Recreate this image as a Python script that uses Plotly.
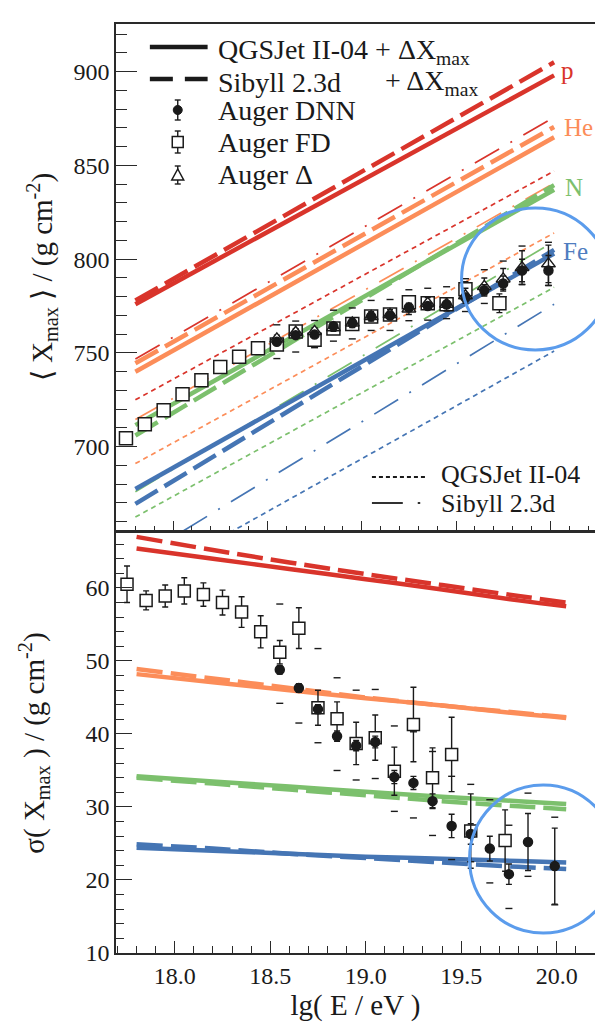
import plotly.graph_objects as go

# ---------------- data ----------------
# model lines, <Xmax> panel (lg E/eV endpoints)
lg_line_top = [17.8, 20.02]
p_qgs_dx = [776.0, 898.0]
p_sib_dx = [778.0, 905.0]
he_qgs_dx = [740.0, 865.0]
he_sib_dx = [744.5, 870.5]
n_qgs_dx = [711.5, 837.0]
n_sib_dx = [706.0, 839.5]
fe_qgs_dx = [677.5, 803.0]
fe_sib_dx = [669.5, 805.0]
p_qgs = [725.0, 847.0]
p_sib = [746.8, 875.7]
he_qgs = [691.0, 814.0]
he_sib = [714.5, 840.5]
n_qgs = [662.5, 785.0]
n_sib = [676.0, 809.5]
fe_qgs = [626.0, 751.0]
fe_sib = [639.5, 776.0]

# model lines, sigma panel
lg_line_sig = [17.8, 18.2, 18.6, 19.0, 19.4, 19.8, 20.05]
sig_p_qgs_dx = [65.4, 64.0, 62.6, 61.2, 59.8, 58.3, 57.5]
sig_p_sib_dx = [67.0, 65.2, 63.5, 61.9, 60.4, 58.9, 58.0]
sig_he_qgs_dx = [48.2, 47.1, 46.0, 44.9, 43.9, 42.8, 42.2]
sig_he_sib_dx = [48.9, 47.6, 46.3, 45.0, 43.9, 42.9, 42.3]
sig_n_qgs_dx = [34.2, 33.5, 32.8, 32.1, 31.4, 30.8, 30.4]
sig_n_sib_dx = [34.0, 33.2, 32.4, 31.6, 30.8, 30.1, 29.7]
sig_fe_qgs_dx = [24.4, 24.0, 23.6, 23.2, 22.9, 22.6, 22.4]
sig_fe_sib_dx = [24.9, 24.3, 23.6, 23.0, 22.4, 21.8, 21.5]

# Auger FD
lg_fd = [17.75, 17.85, 17.95, 18.05, 18.15, 18.25, 18.35, 18.45, 18.55, 18.65,
         18.75, 18.85, 18.95, 19.05, 19.15, 19.25, 19.35, 19.45, 19.55, 19.73]
xmax_fd = [704.5, 712.0, 719.5, 728.0, 735.5, 742.5, 748.0, 752.5, 754.5, 761.5,
           757.0, 763.0, 765.5, 769.5, 770.5, 777.0, 776.5, 776.0, 784.0, 776.5]
xmax_fd_err = [1.0, 1.0, 1.0, 1.0, 1.0, 1.0, 1.0, 1.2, 1.5, 1.5,
               2.0, 2.0, 2.0, 2.0, 2.5, 2.5, 3.0, 3.5, 4.0, 5.0]
sig_fd = [60.5, 58.3, 58.9, 59.6, 59.1, 58.0, 56.7, 54.0, 51.2, 54.5,
          43.6, 42.1, 38.7, 39.5, 34.9, 41.3, 34.0, 37.2, 26.7, 25.4]
sig_fd_err = [2.5, 1.3, 1.5, 1.8, 1.6, 1.7, 2.1, 2.2, 1.6, 2.8,
              2.4, 2.3, 2.9, 3.1, 3.3, 5.1, 4.1, 5.1, 5.1, 4.2]

# Auger DNN
lg_dnn = [18.55, 18.65, 18.75, 18.85, 18.95, 19.05, 19.15, 19.25, 19.35, 19.45,
          19.55, 19.65, 19.75, 19.85, 19.99]
xmax_dnn = [756.0, 759.5, 759.8, 764.3, 766.0, 769.5, 770.0, 774.2, 775.0, 775.8,
            779.6, 783.4, 787.0, 794.0, 794.0]
xmax_dnn_err = [1.0, 1.0, 1.0, 1.0, 1.0, 1.2, 1.2, 1.3, 1.5, 1.8,
                2.2, 3.0, 4.0, 6.0, 8.0]
xmax_dnn_sys_up = [9.0, 7.5, 7.5, 8.5, 8.0, 8.5, 8.5, 9.5, 9.5, 9.5,
                   10.0, 11.0, 12.0, 13.0, 15.0]
xmax_dnn_sys_dn = [9.0, 9.0, 7.0, 8.0, 8.5, 7.5, 8.0, 7.0, 7.5, 7.5,
                   7.5, 7.0, 7.0, 7.5, 8.0]
sig_dnn = [48.8, 46.3, 43.4, 39.7, 38.4, 38.9, 34.1, 33.3, 30.8, 27.4,
           26.3, 24.3, 20.8, 25.2, 21.9]
sig_dnn_err = [0.6, 0.6, 0.6, 0.7, 0.7, 0.8, 0.9, 0.9, 1.0, 1.6,
               1.4, 1.7, 1.4, 3.9, 5.2]
sig_dnn_sys_up = [9.0, 8.7, 8.3, 8.0, 7.6, 7.2, 7.0, 7.0, 6.8, 6.8,
                  6.8, 6.7, 6.7, 6.7, 6.7]
sig_dnn_sys_dn = [4.6, 4.8, 4.6, 4.7, 4.7, 5.0, 4.7, 4.8, 4.7, 4.6,
                  3.8, 4.7, 4.7, 4.7, 5.3]

# Auger Delta method
lg_delta = lg_dnn
xmax_delta = [757.5, 761.0, 761.5, 763.5, 766.0, 769.5, 770.5, 773.5, 776.5, 776.0,
              780.5, 785.5, 789.5, 795.5, 797.5]
xmax_delta_err = [2.0, 2.0, 2.0, 2.0, 2.5, 2.5, 2.5, 3.0, 3.0, 3.5,
                  4.0, 4.5, 5.5, 9.0, 10.0]

species = ["p", "He", "N", "Fe"]

# ---------------- style ----------------
RED = "#d9342b"
ORANGE = "#fc8d59"
GREEN = "#7cc06d"
BLUE = "#4575b4"
CIRCLE_BLUE = "#5b9cec"
FONT = "Liberation Serif, Times New Roman, serif"
INK = "#1a1a1a"

# page is offset by the 8px body margin; work in page pixels
OFF = 8
W, H = 603 - OFF, 1023 - OFF
PLOT_L, PLOT_R, PLOT_T, PLOT_B = 116, 597, 24, 953       # page pixels
ML, MR, MT, MB = PLOT_L - OFF, W - (PLOT_R - OFF), PLOT_T - OFF, H - (PLOT_B - OFF)
PW = PLOT_R - PLOT_L
PH = PLOT_B - PLOT_T


def px2x(px):
    return (px - PLOT_L) / PW


def py2y(py):
    return (PLOT_B - py) / PH


fig = go.Figure()


def add_line(x, y, color, width, dash, xa, ya, shape="linear"):
    fig.add_trace(go.Scatter(x=x, y=y, mode="lines",
                             line=dict(color=color, width=width, dash=dash, shape=shape),
                             xaxis=xa, yaxis=ya, showlegend=False, hoverinfo="skip"))


THIN_Q = "5px,4px"
THIN_S = "28px,13px,2px,13px"
THICK_D = "26px,8px"

# ---- top panel thin lines (pure models)
for yq, ys, c in [(p_qgs, p_sib, RED), (he_qgs, he_sib, ORANGE),
                  (n_qgs, n_sib, GREEN), (fe_qgs, fe_sib, BLUE)]:
    add_line(lg_line_top, yq, c, 1.7, THIN_Q, "x2", "y2")
    add_line(lg_line_top, ys, c, 1.7, THIN_S, "x2", "y2")

# ---- top panel thick lines (+ dXmax)
for yq, ys, c in [(p_qgs_dx, p_sib_dx, RED), (he_qgs_dx, he_sib_dx, ORANGE),
                  (n_qgs_dx, n_sib_dx, GREEN), (fe_qgs_dx, fe_sib_dx, BLUE)]:
    add_line(lg_line_top, yq, c, 4.5, "solid", "x2", "y2")
    add_line(lg_line_top, ys, c, 4.5, THICK_D, "x2", "y2")

# ---- bottom panel thick lines
for yq, ys, c in [(sig_p_qgs_dx, sig_p_sib_dx, RED), (sig_he_qgs_dx, sig_he_sib_dx, ORANGE),
                  (sig_n_qgs_dx, sig_n_sib_dx, GREEN), (sig_fe_qgs_dx, sig_fe_sib_dx, BLUE)]:
    add_line(lg_line_sig, yq, c, 4.5, "solid", "x", "y", "spline")
    add_line(lg_line_sig, ys, c, 4.5, THICK_D, "x", "y", "spline")


def err(arr):
    return dict(type="data", array=arr, visible=True, color=INK, thickness=1.4, width=3)


def add_points(x, y, e, symbol, size, fill, xa, ya):
    fig.add_trace(go.Scatter(x=x, y=y, mode="markers", error_y=err(e),
                             marker=dict(symbol=symbol, size=size, color=fill,
                                         line=dict(color=INK, width=1.5)),
                             xaxis=xa, yaxis=ya, showlegend=False, hoverinfo="skip"))


def add_brackets(x, y, up, dn, xa, ya):
    yu = [a + b for a, b in zip(y, up)]
    yd = [a - b for a, b in zip(y, dn)]
    for yy in (yu, yd):
        fig.add_trace(go.Scatter(x=x, y=yy, mode="markers",
                                 marker=dict(symbol="line-ew", size=5,
                                             line=dict(color=INK, width=1.4)),
                                 xaxis=xa, yaxis=ya, showlegend=False, hoverinfo="skip"))


# top data
add_brackets(lg_dnn, xmax_dnn, xmax_dnn_sys_up, xmax_dnn_sys_dn, "x2", "y2")
add_points(lg_fd, xmax_fd, xmax_fd_err, "square", 13, "white", "x2", "y2")
add_points(lg_delta, xmax_delta, xmax_delta_err, "triangle-up", 12, "white", "x2", "y2")
add_points(lg_dnn, xmax_dnn, xmax_dnn_err, "circle", 9, INK, "x2", "y2")

# bottom data
add_brackets(lg_dnn, sig_dnn, sig_dnn_sys_up, sig_dnn_sys_dn, "x", "y")
add_points(lg_fd, sig_fd, sig_fd_err, "square", 12, "white", "x", "y")
add_points(lg_dnn, sig_dnn, sig_dnn_err, "circle", 9, INK, "x", "y")

# ---------------- axes ----------------
axis_common = dict(showline=True, linecolor="#2a2a2a", linewidth=1.5, mirror=True,
                   showgrid=False, zeroline=False, ticks="inside", tickcolor="#2a2a2a",
                   tickwidth=1.4, tickfont=dict(family=FONT, size=24, color=INK))

fig.update_layout(
    xaxis=dict(axis_common, domain=[0, 1], anchor="y", range=[17.6923, 20.2008],
               tick0=18, dtick=0.5, tickformat=".1f", ticklen=12,
               minor=dict(tick0=18, dtick=0.1, ticks="inside", ticklen=7,
                          tickwidth=1.2, tickcolor="#2a2a2a"),
               ticklabelstandoff=0,
               title=dict(text="lg( E / eV )", font=dict(family=FONT, size=29, color=INK),
                          standoff=6)),
    yaxis=dict(axis_common, domain=[0, (PLOT_B - 533) / PH], anchor="x",
               range=[10, 67.53], tick0=0, dtick=10, ticklen=16,
               minor=dict(tick0=0, dtick=2, ticks="inside", ticklen=8,
                          tickwidth=1.2, tickcolor="#2a2a2a"),
               title=dict(text="σ( X<sub>max</sub> ) / (g cm<sup>-2</sup>)",
                          font=dict(family=FONT, size=29, color=INK), standoff=32)),
    xaxis2=dict(axis_common, domain=[0, 1], anchor="y2", range=[17.6972, 20.2368],
                tick0=18, dtick=0.5, ticklen=9, showticklabels=False,
                minor=dict(tick0=18, dtick=0.1, ticks="inside", ticklen=4,
                           tickwidth=1.2, tickcolor="#2a2a2a")),
    yaxis2=dict(axis_common, domain=[(PLOT_B - 530) / PH, 1], anchor="x2",
                range=[655.6, 925.4], tick0=0, dtick=50, ticklen=21,
                minor=dict(tick0=0, dtick=10, ticks="inside", ticklen=11,
                           tickwidth=1.2, tickcolor="#2a2a2a"),
                title=dict(text="⟨ X<sub>max</sub> ⟩ / (g cm<sup>-2</sup>)",
                           font=dict(family=FONT, size=29, color=INK), standoff=12)),
)

# ---------------- decorations ----------------
shapes = []


def seg(x0, y0, x1, y1, color=INK, width=1.5, dash="solid"):
    shapes.append(dict(type="line", xref="paper", yref="paper",
                       x0=px2x(x0), y0=py2y(y0), x1=px2x(x1), y1=py2y(y1),
                       line=dict(color=color, width=width, dash=dash)))


annotations = []


def text(s, x, y, size=28, color=INK, xanchor="left", height=None):
    a = dict(text=s, xref="paper", yref="paper", x=px2x(x), y=py2y(y),
             xanchor=xanchor, yanchor="middle", showarrow=False,
             font=dict(family=FONT, size=size, color=color))
    if height is not None:
        a["height"] = height
    annotations.append(a)


# top-left legend
seg(150, 47, 208, 47, width=4.5)
seg(150, 79, 208, 79, width=4.5, dash="23px,12px")
text("QGSJet II-04 + ΔX<sub>max</sub>", 216, 52)
text("Sibyll 2.3d", 216, 82)
text("+ ΔX<sub>max</sub>", 384, 82)
text("Auger DNN", 216, 111)
text("Auger FD", 216, 142)
text("Auger Δ", 216, 174)
LX = 178
for yc, half in [(110, 10), (142, 11), (175, 9)]:
    seg(LX, yc - half, LX, yc + half, width=1.4)
    seg(LX - 3, yc - half, LX + 3, yc - half, width=1.4)
    seg(LX - 3, yc + half, LX + 3, yc + half, width=1.4)
shapes.append(dict(type="circle", xref="paper", yref="paper",
                   x0=px2x(LX - 4.5), x1=px2x(LX + 4.5), y0=py2y(114.5), y1=py2y(105.5),
                   fillcolor=INK, line=dict(color=INK, width=1)))
shapes.append(dict(type="rect", xref="paper", yref="paper",
                   x0=px2x(LX - 5.5), x1=px2x(LX + 5.5), y0=py2y(147.5), y1=py2y(136.5),
                   fillcolor="white", line=dict(color=INK, width=1.5)))
tri = "M {} {} L {} {} L {} {} Z".format(px2x(LX - 6), py2y(180), px2x(LX + 6), py2y(180),
                                          px2x(LX), py2y(169))
shapes.append(dict(type="path", xref="paper", yref="paper", path=tri,
                   fillcolor="white", line=dict(color=INK, width=1.5)))

# bottom-right legend of the top panel
seg(373, 477, 427, 477, width=1.8, dash="4px,3px")
seg(373, 503, 404, 503, width=1.8)
seg(419, 503, 421.5, 503, width=1.8)
text("QGSJet II-04", 440, 474, size=26, height=28)
text("Sibyll 2.3d", 440, 503, size=26, height=28)

# species labels
for name, x, y, c in zip(species, [561, 564, 565, 563], [70, 128, 188, 251],
                         [RED, ORANGE, GREEN, "#4f7dc0"]):
    text(name, x, y, size=25, color=c)

# highlight circles
shapes.append(dict(type="circle", xref="paper", yref="paper", layer="above",
                   x0=px2x(463), x1=px2x(611), y0=py2y(350), y1=py2y(208),
                   line=dict(color=CIRCLE_BLUE, width=3)))
shapes.append(dict(type="circle", xref="paper", yref="paper", layer="above",
                   x0=px2x(471), x1=px2x(619), y0=py2y(933), y1=py2y(785),
                   line=dict(color=CIRCLE_BLUE, width=3)))

fig.update_layout(
    width=W, height=H,
    margin=dict(l=ML, r=MR, t=MT, b=MB),
    paper_bgcolor="white",
    plot_bgcolor="white",
    shapes=shapes,
    annotations=annotations,
    showlegend=False,
    font=dict(family=FONT, color=INK),
)

fig.write_html("out.html")
